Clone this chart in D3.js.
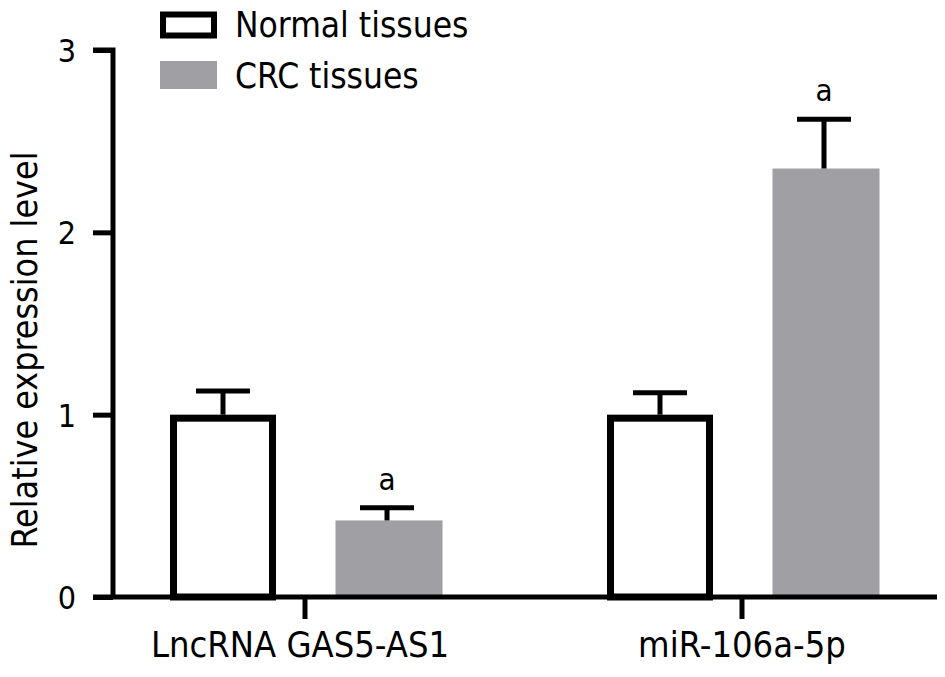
<!DOCTYPE html>
<html><head><meta charset="utf-8">
<script src="https://cdn.jsdelivr.net/npm/d3@7"></script>
<style>
body{margin:0;background:#fff;}
text{font-family:"DejaVu Sans Condensed","DejaVu Sans",sans-serif;font-stretch:condensed;fill:#000;}
</style></head>
<body><svg id="c" width="945" height="677"></svg>
<script>
const categories = ["LncRNA GAS5-AS1", "miR-106a-5p"];
const seriesNames = ["Normal tissues", "CRC tissues"];
const normalValues = [1.0, 1.0];
const normalErrors = [0.13, 0.12];
const crcValues = [0.42, 2.35];
const crcErrors = [0.07, 0.27];
const crcMarks = ["a", "a"];
const yTicks = [0, 1, 2, 3];

const gray = "#a0a0a4";
const svg = d3.select("#c");

const y = d3.scaleLinear().domain([0, 3]).range([597, 50]);
const x = d3.scaleBand().domain(categories).range([86.5, 960.5]).padding(0);
const xs = d3.scalePoint().domain(seriesNames).range([-82, 82]);
const barW = 106;

const data = [];
categories.forEach((c, i) => {
  data.push({cat: c, s: seriesNames[0], v: normalValues[i], e: normalErrors[i], m: ""});
  data.push({cat: c, s: seriesNames[1], v: crcValues[i], e: crcErrors[i], m: crcMarks[i]});
});
const cx = d => x(d.cat) + x.bandwidth() / 2 + xs(d.s);

// bars
data.forEach(d => {
  const isN = d.s === seriesNames[0];
  if (isN) {
    svg.append("rect")
      .attr("x", cx(d) - barW / 2 + 3.5).attr("width", barW - 7)
      .attr("y", y(d.v) + 3.5).attr("height", y(0) - y(d.v) - 3.5)
      .attr("fill", "#fff").attr("stroke", "#000").attr("stroke-width", 7);
  } else {
    svg.append("rect")
      .attr("x", cx(d) - barW / 2 + 1.5).attr("width", barW + 1)
      .attr("y", y(d.v)).attr("height", y(0) - y(d.v))
      .attr("fill", gray);
  }
  svg.append("line").attr("x1", cx(d)).attr("x2", cx(d))
    .attr("y1", y(d.v)).attr("y2", y(d.v + d.e))
    .attr("stroke", "#000").attr("stroke-width", 5);
  svg.append("line").attr("x1", cx(d) - 27).attr("x2", cx(d) + 27)
    .attr("y1", y(d.v + d.e)).attr("y2", y(d.v + d.e))
    .attr("stroke", "#000").attr("stroke-width", 5);
  if (d.m) {
    svg.append("text").attr("x", cx(d)).attr("y", y(d.v + d.e) - 18)
      .attr("text-anchor", "middle").attr("font-size", 31).text(d.m);
  }
});

// y axis
const yAxis = d3.axisLeft(y).tickValues(yTicks).tickSize(20).tickPadding(17).tickFormat(d3.format("d"));
const gy = svg.append("g").attr("transform", "translate(113,0)").call(yAxis);
gy.select(".domain").attr("stroke-width", 5).attr("d", "M-20," + y(3) + "H0V" + y(0));
gy.selectAll(".tick line").attr("stroke-width", 5);
gy.selectAll(".tick text").attr("font-size", 32).attr("dy", "0.36em");

// x axis
const xAxis = d3.axisBottom(x).tickSize(22).tickPadding(12).tickSizeOuter(0);
const gx = svg.append("g").attr("transform", "translate(0," + y(0) + ")").call(xAxis);
gx.select(".domain").attr("stroke-width", 5).attr("d", "M93,0H937");
gx.selectAll(".tick line").attr("stroke-width", 5);
gx.selectAll(".tick text").attr("font-size", 36).attr("dy", "0.71em");
gx.selectAll(".tick text").attr("x", (d, i) => i === 0 ? -5 : 0);

// y title
svg.append("text").attr("transform", "translate(37,350) rotate(-90)")
  .attr("text-anchor", "middle").attr("font-size", 35.5).text("Relative expression level");

// legend
const lg = svg.append("g");
lg.append("rect").attr("x", 163).attr("y", 14.5).attr("width", 51).attr("height", 21)
  .attr("fill", "#fff").attr("stroke", "#000").attr("stroke-width", 6);
lg.append("rect").attr("x", 160).attr("y", 61).attr("width", 57).attr("height", 28).attr("fill", gray);
lg.append("text").attr("x", 235).attr("y", 37).attr("font-size", 35).text(seriesNames[0]);
lg.append("text").attr("x", 235).attr("y", 88).attr("font-size", 35).text(seriesNames[1]);
</script></body></html>
